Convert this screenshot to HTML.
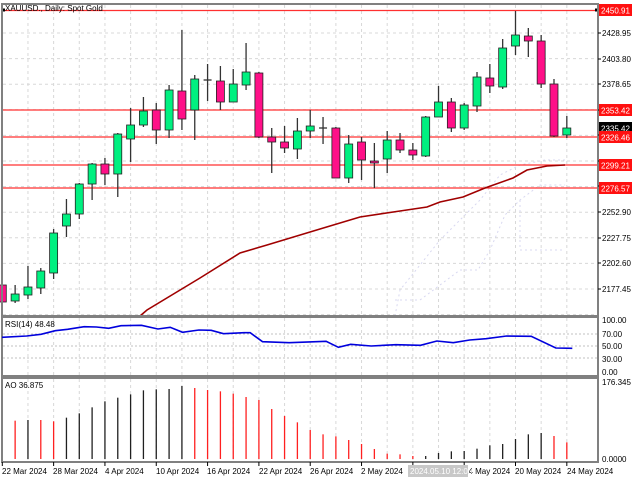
<!DOCTYPE html>
<html><head><meta charset="utf-8"><style>
html,body{margin:0;padding:0;background:#fff}
svg{display:block;font-family:"Liberation Sans",sans-serif}
</style></head><body>
<svg id="s" width="640" height="480" viewBox="0 0 640 480" xmlns="http://www.w3.org/2000/svg">
<rect width="640" height="480" fill="#fff"/>
<g id="grid" stroke="#d8d8d8" stroke-dasharray="3,3" stroke-width="1"></g>
<g id="ind" fill="none" stroke="#d8d8f0" stroke-dasharray="2,3" stroke-width="1">
<polyline points="395,316 400,290 420,265 440,240 465,215 480,200 500,175 520,165 545,160 565,160"/>
<polyline points="395,300 420,300 440,285 460,270 478,270 490,250 505,215 520,200 540,185 565,185"/>
<polyline points="520,200 520,250 565,250"/>
</g>
<g id="hl" stroke="#ff3030" stroke-width="1.2">
<line x1="3" y1="10.5" x2="598" y2="10.5"/>
<line x1="3" y1="110" x2="598" y2="110"/>
<line x1="3" y1="137" x2="598" y2="137"/>
<line x1="3" y1="165" x2="598" y2="165"/>
<line x1="3" y1="188" x2="598" y2="188"/>
</g>
<polyline fill="none" stroke="#a00000" stroke-width="1.6" points="140,316 147,310 200,278 240,253 267,245 320,229 360,217 400,211 427,207 440,202 463,197 485,188 513,178 527,170 547,166 565,165"/>
<g id="candles"></g>
<rect x="2" y="8.5" width="3" height="3" fill="#000"/>
<rect x="595" y="8.5" width="3" height="3" fill="#000"/>
<g fill="none" stroke="#808080" stroke-width="2">
<rect x="2" y="4" width="596" height="312"/>
<rect x="2" y="317" width="596" height="59"/>
<rect x="2" y="378" width="596" height="84"/>
</g>
<text x="5" y="11" font-size="8" fill="#000">XAUUSD., Daily:  Spot Gold</text>
<g font-size="8" fill="#000" id="pax">
<text x="602" y="36">2428.95</text>
<text x="602" y="62">2403.80</text>
<text x="602" y="87">2378.65</text>
<text x="602" y="215">2252.90</text>
<text x="602" y="241">2227.75</text>
<text x="602" y="266">2202.60</text>
<text x="602" y="292">2177.45</text>
</g>
<g id="ticks" stroke="#000" stroke-width="1"></g>
<g font-size="8">
<rect x="599" y="4" width="33" height="12" fill="#ff1010"/><text x="601" y="13.5" fill="#fff">2450.91</text>
<rect x="599" y="104" width="33" height="12" fill="#ff1010"/><text x="601" y="113.5" fill="#fff">2353.42</text>
<rect x="599" y="122" width="33" height="12" fill="#000"/><text x="601" y="131.5" fill="#fff">2335.42</text>
<rect x="599" y="131" width="33" height="12" fill="#ff1010"/><text x="601" y="140.5" fill="#fff">2326.46</text>
<rect x="599" y="159" width="33" height="12" fill="#ff1010"/><text x="601" y="168.5" fill="#fff">2299.21</text>
<rect x="599" y="182" width="33" height="12" fill="#ff1010"/><text x="601" y="191.5" fill="#fff">2276.57</text>
</g>
<g stroke="#c0c0c0" stroke-dasharray="2,2">
<line x1="3" y1="334" x2="597" y2="334"/>
<line x1="3" y1="346" x2="597" y2="346"/>
<line x1="3" y1="358" x2="597" y2="358"/>
</g>
<polyline id="rsi" fill="none" stroke="#0000dd" stroke-width="1.6"/>
<text x="5" y="327" font-size="8">RSI(14) 48.48</text>
<g font-size="8">
<text x="602" y="323">100.00</text>
<text x="602" y="337">70.00</text>
<text x="602" y="349">50.00</text>
<text x="602" y="362">30.00</text>
<text x="602" y="375">0.00</text>
<text x="602" y="385">176.345</text>
<text x="602" y="462">0.0000</text>
</g>
<g id="ao" stroke-width="1.3"></g>
<text x="5" y="388" font-size="8">AO 36.875</text>
<g font-size="8">
<text x="2" y="474">22 Mar 2024</text>
<text x="53" y="474">28 Mar 2024</text>
<text x="105" y="474">4 Apr 2024</text>
<text x="156" y="474">10 Apr 2024</text>
<text x="207" y="474">16 Apr 2024</text>
<text x="259" y="474">22 Apr 2024</text>
<text x="310" y="474">26 Apr 2024</text>
<text x="361" y="474">2 May 2024</text>
<text x="464" y="474">14 May 2024</text>
<text x="515" y="474">20 May 2024</text>
<text x="567" y="474">24 May 2024</text>
<rect x="408" y="465" width="60" height="12" fill="#c8c8c8"/>
<text x="410" y="474" fill="#fff">2024.05.10 12:00</text>
</g>
</svg>
<script>
var NS="http://www.w3.org/2000/svg";
function el(p,t,a){var e=document.createElementNS(NS,t);for(var k in a)e.setAttribute(k,a[k]);p.appendChild(e);return e;}
function X(i){return 2.3+12.83*i;}
var C=[[285,302,283,303,0],[294,301,285,303,1],[287,295,266,299,1],[271,288,268,294,1],[233,273,229,279,1],[214,226,199,237,1],[184,214,183,219,1],[164,184,163,200,1],[164,174,158,185,0],[134,174,133,197,1],[125,139,108,162,1],[111,125,97,127,1],[110,130,103,144,0],[90,130,85,138,1],[91,119,30,130,0],[79,110,75,140,1],[80,80,64,101,2],[81,102,66,110,0],[84,102,69,102,1],[72,85,43,90,1],[73,137,72,138,0],[137,142,128,173,0],[142,148,126,153,0],[131,149,118,159,1],[126,131,110,138,1],[128,128,117,144,2],[128,178,127,178,0],[144,178,135,183,1],[142,160,137,180,0],[161,163,143,188,0],[140,159,131,173,1],[140,150,133,153,0],[150,155,143,160,0],[117,156,116,157,1],[102,117,86,117,1],[102,128,98,132,0],[105,128,103,130,1],[77,106,72,112,1],[78,86,64,93,0],[48,87,39,89,1],[35,46,11,55,1],[36,41,28,57,0],[41,84,35,88,0],[84,136,79,137,0],[128,135,116,138,1]];
var g=document.getElementById("candles");
C.forEach(function(c,i){var x=X(i);
 el(g,"line",{x1:x,x2:x,y1:c[2],y2:c[3],stroke:"#333","stroke-width":1.3});
 if(c[4]==2){el(g,"line",{x1:x-4,x2:x+4,y1:c[0],y2:c[0],stroke:"#333","stroke-width":1.3});}
 else el(g,"rect",{x:x-4,y:c[0],width:8,height:Math.max(2,c[1]-c[0]),fill:c[4]?"#00f080":"#ff1088",stroke:"#222","stroke-width":0.8});
});
var gr=document.getElementById("grid");
for(var y=33;y<316;y+=25.6)el(gr,"line",{x1:3,x2:597,y1:y,y2:y});
for(var i=2;i<46;i+=2){var x=X(i);el(gr,"line",{x1:x,x2:x,y1:5,y2:315});el(gr,"line",{x1:x,x2:x,y1:318,y2:375});el(gr,"line",{x1:x,x2:x,y1:379,y2:461});}
var tk=document.getElementById("ticks");
[33,59,84,110,135,161,186,212,238,263,289].forEach(function(y){el(tk,"line",{x1:598,x2:601,y1:y,y2:y});});
[0,4,8,12,16,20,24,28,32,36,40,44].forEach(function(i){var x=X(i);el(tk,"line",{x1:x,x2:x,y1:462,y2:466});});
var R=[[0,82],[60,78],[95,73],[130,62],[160,58],[200,50],[230,51],[260,55],[290,47],[340,46],[380,57],[410,52],[440,67],[480,60],[510,61],[540,71],[590,68],[605,68],[635,95],[700,98],[790,94],[820,112],[850,103],[900,108],[960,104],[1020,106],[1060,93],[1100,98],[1140,90],[1180,86],[1230,78],[1290,79],[1350,114],[1390,115]];
document.getElementById("rsi").setAttribute("points",R.map(function(p){return (p[0]/2.4375+2).toFixed(1)+","+(310+p[1]/3).toFixed(1);}).join(" "));
var A=[null,[332,1],[330,0],[330,1],[334,1],[323,0],[310,0],[292,0],[274,0],[263,0],[253,0],[241,0],[238,0],[237,0],[228,0],[234,1],[240,1],[244,1],[251,1],[261,1],[270,1],[297,1],[318,1],[337,1],[360,1],[373,1],[379,1],[390,1],[402,1],[417,1],[431,1],[433,1],[438,1],[438,0],[429,0],[424,0],[423,0],[416,0],[406,0],[402,0],[387,0],[373,0],[369,0],[378,1],[397,1]];
var ao=document.getElementById("ao");
A.forEach(function(a,i){if(!a)return;var x=X(i);el(ao,"line",{x1:x,x2:x,y1:310+a[0]/3,y2:459,stroke:a[1]?"#ff2020":"#202020"});});
</script>
</body></html>
